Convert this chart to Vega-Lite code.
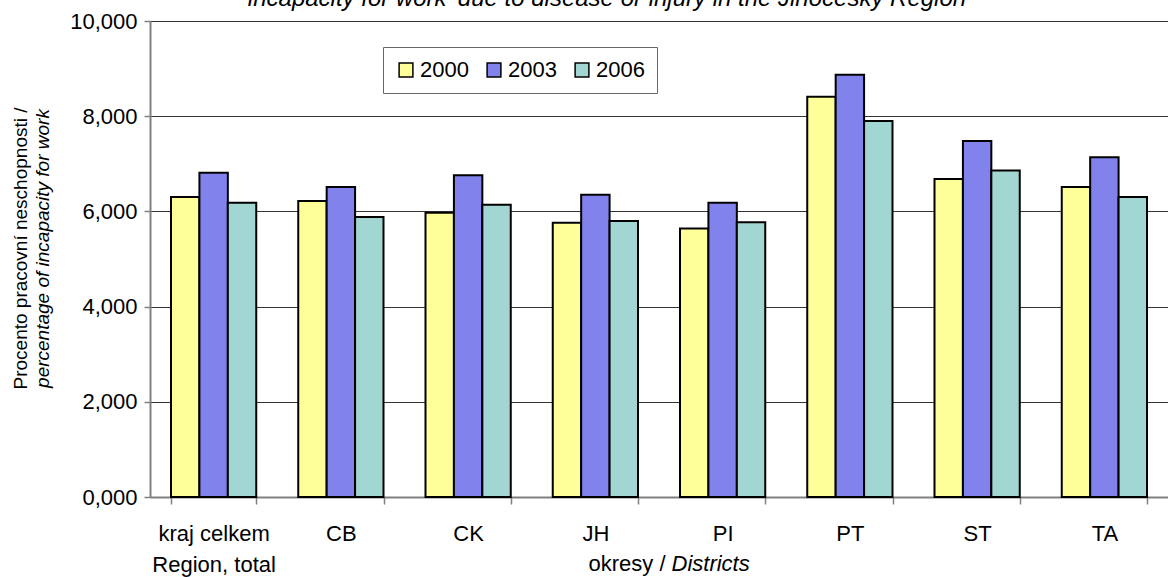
{
  "$schema": "https://vega.github.io/schema/vega-lite/v6.json",
  "autosize": "none",
  "width": 1018,
  "height": 476,
  "padding": {"left": 150, "top": 21, "right": 0, "bottom": 80},
  "background": "white",
  "config": {
    "font": "Liberation Sans",
    "view": {"stroke": null},
    "axis": {"labelFont": "Liberation Sans", "titleFont": "Liberation Sans", "labelColor": "black", "titleColor": "black", "titleFontWeight": "normal"}
  },
  "title": {
    "text": "incapacity for work' due to disease or injury in the Jihočeský Region",
    "font": "Liberation Sans",
    "fontSize": 24,
    "fontStyle": "italic",
    "fontWeight": "normal",
    "color": "black",
    "anchor": "middle",
    "baseline": "alphabetic",
    "offset": 2,
    "dy": 22,
    "dx": -52
  },
  "data": {
    "values": [
      {"district": "kraj celkem", "year": "2000", "value": 6.30},
      {"district": "kraj celkem", "year": "2003", "value": 6.81},
      {"district": "kraj celkem", "year": "2006", "value": 6.18},
      {"district": "CB", "year": "2000", "value": 6.22},
      {"district": "CB", "year": "2003", "value": 6.51},
      {"district": "CB", "year": "2006", "value": 5.88},
      {"district": "CK", "year": "2000", "value": 5.97},
      {"district": "CK", "year": "2003", "value": 6.76},
      {"district": "CK", "year": "2006", "value": 6.14},
      {"district": "JH", "year": "2000", "value": 5.76},
      {"district": "JH", "year": "2003", "value": 6.35},
      {"district": "JH", "year": "2006", "value": 5.80},
      {"district": "PI", "year": "2000", "value": 5.64},
      {"district": "PI", "year": "2003", "value": 6.18},
      {"district": "PI", "year": "2006", "value": 5.77},
      {"district": "PT", "year": "2000", "value": 8.41},
      {"district": "PT", "year": "2003", "value": 8.87},
      {"district": "PT", "year": "2006", "value": 7.90},
      {"district": "ST", "year": "2000", "value": 6.68},
      {"district": "ST", "year": "2003", "value": 7.48},
      {"district": "ST", "year": "2006", "value": 6.86},
      {"district": "TA", "year": "2000", "value": 6.51},
      {"district": "TA", "year": "2003", "value": 7.14},
      {"district": "TA", "year": "2006", "value": 6.30}
    ]
  },
  "layer": [
    {
      "mark": {"type": "bar", "stroke": "black", "strokeWidth": 2},
      "encoding": {
        "x": {
          "field": "district", "type": "nominal", "sort": null,
          "scale": {"paddingInner": 0.33, "paddingOuter": 0.165},
          "axis": {
            "orient": "bottom",
            "labelAngle": 0,
            "labelFontSize": 22,
            "labelPadding": 19,
            "labelBaseline": "top",
            "labelLineHeight": 31,
            "labelExpr": "datum.value == 'kraj celkem' ? ['kraj celkem', 'Region, total'] : datum.value",
            "tickBand": "extent",
            "tickSize": 7,
            "tickColor": "#808080",
            "tickWidth": 1.5,
            "domainColor": "#808080",
            "domainWidth": 2,
            "title": "okresy /",
            "titleFontSize": 22,
            "titleAlign": "right",
            "titleAnchor": null,
            "titleX": 515,
            "titleY": 66,
            "titleBaseline": "middle",
            "grid": false
          }
        },
        "xOffset": {"field": "year", "type": "nominal", "scale": {"paddingInner": 0, "paddingOuter": 0}},
        "y": {
          "field": "value", "type": "quantitative",
          "scale": {"domain": [0, 10], "nice": false},
          "axis": {
            "orient": "left",
            "values": [0, 2, 4, 6, 8, 10],
            "labelExpr": "replace(format(datum.value, '.3f'), '.', ',')",
            "labelFontSize": 22,
            "labelPadding": 7,
            "tickSize": 6,
            "tickColor": "#808080",
            "tickWidth": 1.5,
            "domainColor": "#808080",
            "domainWidth": 2,
            "grid": true,
            "gridColor": "#333333",
            "gridWidth": 1,
            "title": "Procento pracovní neschopnosti /",
            "titleFontSize": 19,
            "titleX": -130,
            "titleY": 227,
            "titleAngle": -90,
            "titleAlign": "center",
            "titleBaseline": "middle"
          }
        },
        "color": {
          "field": "year", "type": "nominal",
          "scale": {"domain": ["2000", "2003", "2006"], "range": ["#FFFF99", "#8282EC", "#A2D6D2"]},
          "legend": {
            "orient": "none",
            "legendX": 233,
            "legendY": 26,
            "direction": "horizontal",
            "columns": 3,
            "title": null,
            "symbolType": "square",
            "symbolSize": 190,
            "symbolStrokeColor": "black",
            "symbolStrokeWidth": 1.5,
            "symbolOpacity": 1,
            "labelFontSize": 22,
            "labelColor": "black",
            "labelFont": "Liberation Sans",
            "labelOffset": 3,
            "columnPadding": 14,
            "padding": 12,
            "strokeColor": "#666666",
            "fillColor": "white"
          }
        }
      }
    },
    {
      "mark": {"type": "bar", "opacity": 0},
      "encoding": {
        "x": {
          "field": "district", "type": "nominal", "sort": null,
          "axis": {
            "orient": "bottom",
            "labels": false, "ticks": false, "domain": false, "grid": false,
            "title": "Districts",
            "titleFontSize": 22,
            "titleFontStyle": "italic",
            "titleAlign": "left",
            "titleAnchor": null,
            "titleX": 521,
            "titleY": 66,
            "titleBaseline": "middle"
          }
        },
        "xOffset": {"field": "year", "type": "nominal"},
        "y": {
          "field": "value", "type": "quantitative",
          "axis": {
            "orient": "left",
            "labels": false, "ticks": false, "domain": false, "grid": false,
            "title": "percentage of incapacity for work",
            "titleFontSize": 19,
            "titleFontStyle": "italic",
            "titleX": -108,
            "titleY": 227,
            "titleAngle": -90,
            "titleAlign": "center",
            "titleBaseline": "middle"
          }
        }
      }
    }
  ],
  "resolve": {"axis": {"x": "independent", "y": "independent"}}
}
